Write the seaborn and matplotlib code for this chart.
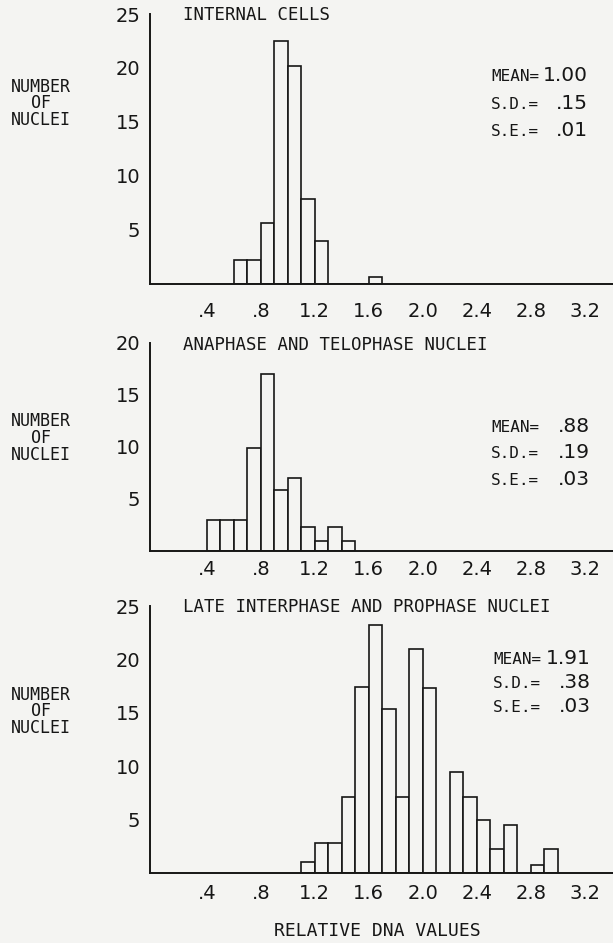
import numpy as np
import pandas as pd
import matplotlib
matplotlib.use("Agg")
import matplotlib.pyplot as plt
import seaborn as sns

# ---------------- data ----------------
x_ticks = [0.4, 0.8, 1.2, 1.6, 2.0, 2.4, 2.8, 3.2]
x_tick_labels = [".4", ".8", "1.2", "1.6", "2.0", "2.4", "2.8", "3.2"]
bin_width = 0.1

# panel 1: internal cells (left edges of bins, counts)
p1_left = [0.6, 0.7, 0.8, 0.9, 1.0, 1.1, 1.2, 1.3, 1.4, 1.5, 1.6]
p1_counts = [2.2, 2.2, 5.6, 22.5, 20.2, 7.8, 3.9, 0, 0, 0, 0.6]
p1_title = "INTERNAL CELLS"
p1_stats = [("MEAN=", "1.00"), ("S.D.=", ".15"), ("S.E.=", ".01")]
p1_yticks = [5, 10, 15, 20, 25]

# panel 2: anaphase and telophase nuclei
p2_left = [0.4, 0.5, 0.6, 0.7, 0.8, 0.9, 1.0, 1.1, 1.2, 1.3, 1.4]
p2_counts = [3.0, 3.0, 3.0, 9.9, 17.0, 5.9, 7.0, 2.3, 1.0, 2.3, 1.0]
p2_title = "ANAPHASE AND TELOPHASE NUCLEI"
p2_stats = [("MEAN=", ".88"), ("S.D.=", ".19"), ("S.E.=", ".03")]
p2_yticks = [5, 10, 15, 20]

# panel 3: late interphase and prophase nuclei
p3_left = [1.1, 1.2, 1.3, 1.4, 1.5, 1.6, 1.7, 1.8, 1.9, 2.0,
           2.1, 2.2, 2.3, 2.4, 2.5, 2.6, 2.7, 2.8, 2.9]
p3_counts = [1.1, 2.8, 2.8, 7.1, 17.4, 23.2, 15.4, 7.1, 21.0, 17.3,
             0, 9.5, 7.1, 5.0, 2.3, 4.5, 0, 0.8, 2.3]
p3_title = "LATE INTERPHASE AND PROPHASE NUCLEI"
p3_stats = [("MEAN=", "1.91"), ("S.D.=", ".38"), ("S.E.=", ".03")]
p3_yticks = [5, 10, 15, 20, 25]

y_label_lines = ["NUMBER", "OF", "NUCLEI"]
x_label = "RELATIVE DNA VALUES"

# ---------------- style ----------------
sns.set_theme(style="white")
BG = "#f4f4f2"
INK = "#161616"
plt.rcParams["font.family"] = ["DejaVu Sans"]
MONO = ["DejaVu Sans Mono", "DejaVu Sans"]

W, H = 613, 943
fig = plt.figure(figsize=(W / 100, H / 100), dpi=100)
fig.patch.set_facecolor(BG)


def fx(x):
    return x / W


def fy(y):
    return 1 - y / H


panels = [
    dict(left=p1_left, counts=p1_counts, title=p1_title, stats=p1_stats,
         yticks=p1_yticks, ymax=25, top=14, bottom=283.5, xpad=10.0,
         stat_x=(491, 588), stat_y=[81, 109, 136], lab_mid=103.5),
    dict(left=p2_left, counts=p2_counts, title=p2_title, stats=p2_stats,
         yticks=p2_yticks, ymax=20, top=343, bottom=551, xpad=3.5,
         stat_x=(491, 590), stat_y=[432, 458, 485], lab_mid=438),
    dict(left=p3_left, counts=p3_counts, title=p3_title, stats=p3_stats,
         yticks=p3_yticks, ymax=25, top=606, bottom=873.3, xpad=4.5,
         stat_x=(493, 591), stat_y=[664, 688, 712], lab_mid=711.5),
]

for p in panels:
    ax = fig.add_axes([fx(150), fy(p["bottom"]), fx(W - 150),
                       (p["bottom"] - p["top"]) / H])
    ax.set_facecolor("none")
    left = np.array(p["left"])
    df = pd.DataFrame({"x": left + bin_width / 2, "n": p["counts"]})
    edges = list(left) + [left[-1] + bin_width]
    sns.histplot(data=df, x="x", weights="n", bins=edges, ax=ax,
                 color=BG, edgecolor=INK, linewidth=1.2, alpha=1,
                 legend=False)
    ax.set_xlim(-0.02, 3.41)
    ax.set_ylim(0, p["ymax"])
    ax.set_xticks(x_ticks)
    ax.set_xticklabels(x_tick_labels)
    ax.set_yticks(p["yticks"])
    ax.set_yticklabels([str(v) for v in p["yticks"]])
    ax.set_xlabel("")
    ax.set_ylabel("")
    for s in ["top", "right"]:
        ax.spines[s].set_visible(False)
    for s in ["left", "bottom"]:
        ax.spines[s].set_visible(True)
        ax.spines[s].set_color(INK)
        ax.spines[s].set_linewidth(1.4)
    ax.tick_params(axis="both", direction="inout", length=6, width=1.2,
                   color=INK, labelcolor=INK, labelsize=14)
    ax.tick_params(axis="y", pad=4.0)
    ax.tick_params(axis="x", pad=p["xpad"])

    # title
    fig.text(fx(183), fy(p["top"] + 1.5), p["title"], family=MONO,
             fontsize=12.5, color=INK, ha="left", va="center")
    # stats
    for (lab, val), yb in zip(p["stats"], p["stat_y"]):
        fig.text(fx(p["stat_x"][0]), fy(yb), lab, family=MONO,
                 fontsize=11.5, color=INK, ha="left", va="baseline")
        fig.text(fx(p["stat_x"][1]), fy(yb), val, fontsize=14.5,
                 color=INK, ha="right", va="baseline")
    # y label (three stacked lines)
    for i, line in enumerate(y_label_lines):
        fig.text(fx(41), fy(p["lab_mid"] + (i - 1) * 16.5), line,
                 family=MONO, fontsize=12, color=INK,
                 ha="center", va="center")

fig.text(fx(377), fy(931), x_label, family=MONO, fontsize=13,
         color=INK, ha="center", va="center")

fig.savefig("out.png", dpi=100, facecolor=fig.get_facecolor())
